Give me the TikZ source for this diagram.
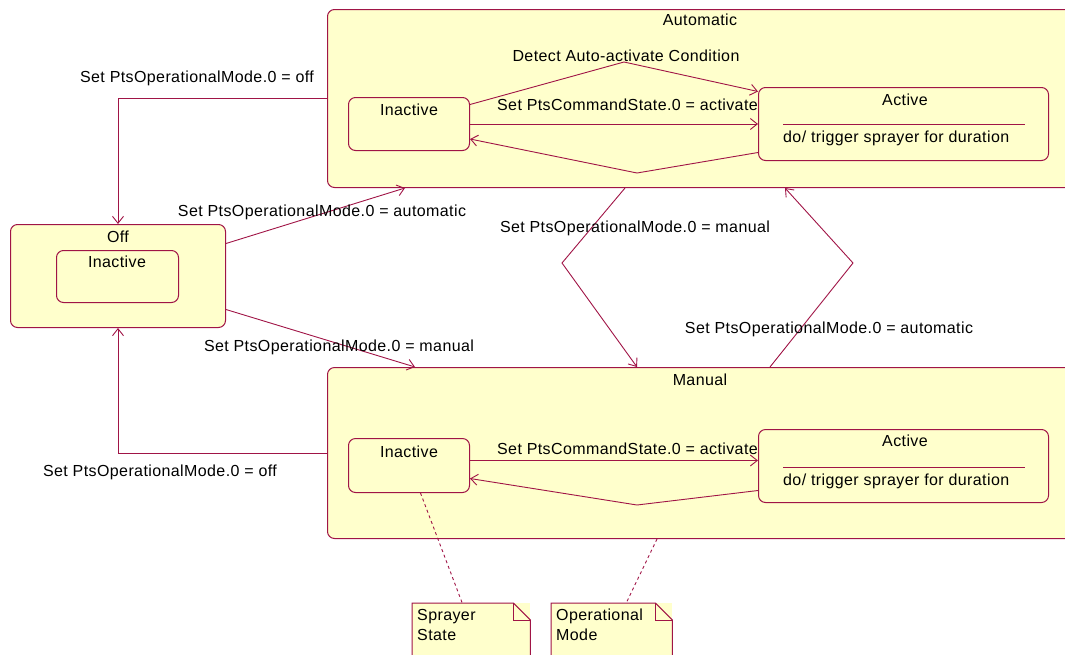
\documentclass[tikz,border=0pt]{standalone}
\usepackage{fontspec}
\setmainfont[LetterSpace=2.5]{Liberation Sans}
\usetikzlibrary{arrows.meta,positioning,calc}
\definecolor{umlred}{RGB}{160,20,70}
\definecolor{umlfill}{RGB}{255,255,204}

\begin{document}
\begin{tikzpicture}[x=1pt,y=-1pt,
  state/.style={draw=umlred,fill=umlfill,rounded corners=7pt,line width=1pt,anchor=north west,inner sep=0pt},
  note/.style={fill=umlfill,anchor=north west,inner sep=0pt},
  trans/.style={draw=umlred,line width=0.9pt,-{Straight Barb[length=7pt,width=11pt]}},
  lbl/.style={font=\fontsize{16}{19}\selectfont,inner sep=0pt,text height=11pt,text depth=3pt,yshift=-1.5pt},
  notetext/.style={font=\fontsize{16}{20}\selectfont,inner sep=0pt,anchor=north west,align=left},
  notelink/.style={draw=umlred,dashed,line width=0.9pt}]

\useasboundingbox (0,0) rectangle (1065,654);
\clip (0,0) rectangle (1065,654);

% super states
\node[state,minimum width=215pt,minimum height=103pt] (off) at (10,224) {};
\node[state,minimum width=760pt,minimum height=178pt] (auto) at (327,9) {};
\node[state,minimum width=760pt,minimum height=171pt] (manual) at (327,367) {};

% sub states
\node[state,minimum width=122pt,minimum height=52pt] (offin) at (56,250) {};
\node[state,minimum width=121pt,minimum height=53pt] (ain) at (348,97) {};
\node[state,minimum width=290pt,minimum height=73pt] (aact) at (758,87) {};
\node[state,minimum width=121pt,minimum height=54pt] (min) at (348,438) {};
\node[state,minimum width=290pt,minimum height=73pt] (mact) at (758,429) {};

% notes
\node[note,minimum width=118pt,minimum height=60pt] (sprayer) at (412,603) {};
\node[note,minimum width=121pt,minimum height=60pt] (opmode) at (551,603) {};
\foreach \n in {sprayer,opmode}{
  \draw[umlred,line width=1pt] (\n.south west) -- (\n.north west) -- ([xshift=-17pt]\n.north east)
    -- ([yshift=-17pt]\n.north east) -- (\n.south east);
  \draw[umlred,line width=1pt] ([xshift=-17pt]\n.north east) |- ([yshift=-17pt]\n.north east);
}

% titles
\node[lbl] (autot) at (700,20) {Automatic};
\node[lbl] (mant) at (700,380) {Manual};
\node[lbl] (offt) at (118,237) {Off};
\node[lbl] (offint) at (117,262) {Inactive};
\node[lbl] (aint) at (409,110) {Inactive};
\node[lbl] (mint) at (409,452) {Inactive};
\node[lbl] (aactt) at (905,100) {Active};
\node[lbl] (mactt) at (905,441) {Active};
\node[lbl,anchor=west] (ado) at (783,137) {do/ trigger sprayer for duration};
\node[lbl,anchor=west] (mdo) at (783,480) {do/ trigger sprayer for duration};
\draw[umlred,line width=1pt] (783,124) -- (1025,124);
\draw[umlred,line width=1pt] (783,467) -- (1025,467);
\node[notetext] (sprayert) at (417,609) {Sprayer\\State};
\node[notetext] (opmodet) at (556,609) {Operational\\Mode};

% bend points
\coordinate (kinkL) at (562,263);
\coordinate (kinkR) at (853,263);
\coordinate (autotop) at (624,62);
\coordinate (autobot) at (637,173);
\coordinate (manbot) at (637,505);

% transitions between modes
\draw[trans] (auto.west) -| (off.north);
\draw[trans] (manual.west) -| (off.south);
\draw[trans] ([yshift=32.5pt]off.east) -- ([xshift=78pt]auto.south west);
\draw[trans] ([yshift=-33.5pt]off.east) -- ([xshift=88pt]manual.north west);
\draw[trans] ([xshift=298pt]auto.south west) -- (kinkL) -- ([xshift=310pt]manual.north west);
\draw[trans] ([xshift=443pt]manual.north west) -- (kinkR) -- ([xshift=458pt]auto.south west);

% transitions inside automatic
\draw[trans] ([yshift=19.5pt]ain.east) -- (autotop) -- ([yshift=32.5pt]aact.west);
\draw[trans] (ain.east) -- (aact.west);
\draw[trans] ([yshift=-28.5pt]aact.west) -- (autobot) -- ([yshift=-15pt]ain.east);

% transitions inside manual
\draw[trans] ([yshift=5pt]min.east) -- ([yshift=5.5pt]mact.west);
\draw[trans] ([yshift=-24.5pt]mact.west) -- (manbot) -- ([yshift=-13pt]min.east);

% note links
\draw[notelink] ([xshift=11.5pt]min.south) -- ([xshift=-9pt]sprayer.north);
\draw[notelink] ([xshift=330pt]manual.south west) -- ([xshift=14.5pt]opmode.north);

% transition labels
\node[lbl] (l1) at (197,77) {Set PtsOperationalMode.0 = off};
\node[lbl] (l2) at (626,56) {Detect Auto-activate Condition};
\node[lbl,anchor=east] (l3) at (758,105) {Set PtsCommandState.0 = activate};
\node[lbl] (l4) at (322,211) {Set PtsOperationalMode.0 = automatic};
\node[lbl] (l5) at (635,227) {Set PtsOperationalMode.0 = manual};
\node[lbl] (l6) at (339,346) {Set PtsOperationalMode.0 = manual};
\node[lbl] (l7) at (829,328) {Set PtsOperationalMode.0 = automatic};
\node[lbl] (l8) at (160,471) {Set PtsOperationalMode.0 = off};
\node[lbl,anchor=east] (l9) at (758,449) {Set PtsCommandState.0 = activate};

\end{tikzpicture}
\end{document}
